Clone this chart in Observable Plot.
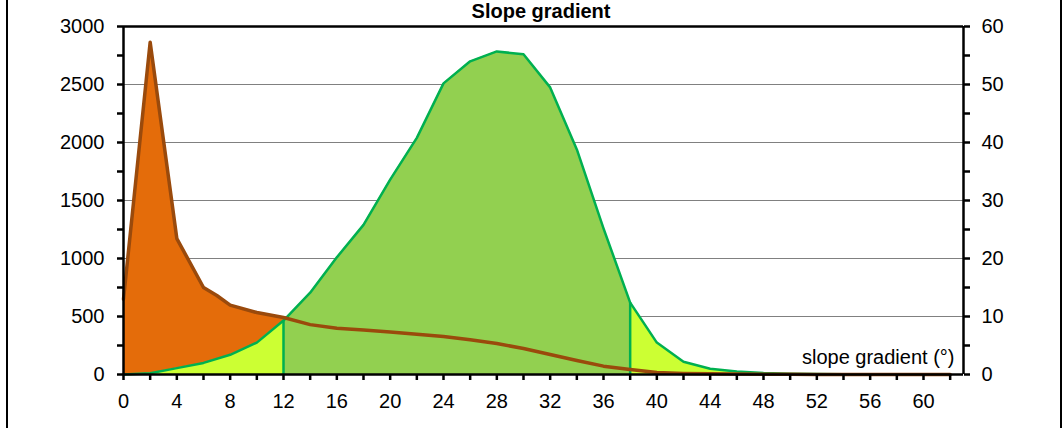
<!DOCTYPE html>
<html>
<head>
<meta charset="utf-8">
<script src="https://cdn.jsdelivr.net/npm/d3@7"></script>
<script src="https://cdn.jsdelivr.net/npm/@observablehq/plot@0.6"></script>
<style>
  html, body { margin: 0; padding: 0; background: #fff; }
  #wrap { position: relative; width: 1064px; height: 428px; overflow: hidden; font-family: "Liberation Sans", Arial, sans-serif; }
  #frame { position: absolute; left: 6px; top: -20px; width: 1056px; height: 480px; border: 2px solid #000; box-sizing: border-box; pointer-events: none; }
  #title { position: absolute; top: 0px; left: 0; width: 1082px; text-align: center; font-weight: bold; font-size: 20px; line-height: 22px; color: #000; }
  #chart { position: absolute; left: 0; top: 0; }
</style>
</head>
<body>
<div id="wrap">
  <div id="frame"></div>
  <div id="chart"></div>
  <div id="title">Slope gradient</div>
</div>
<script>
// ---- data ----
// Orange series (left axis)
const orangeSlope = [0, 2, 4, 6, 7, 8, 10, 12, 14, 16, 18, 20, 22, 24, 26, 28, 30, 32, 34, 36, 38, 40, 42, 44, 46, 48, 50, 52, 54, 56, 58, 60, 62];
const orangeValue = [650, 2865, 1172, 750, 681, 598, 534, 491, 430, 398, 383, 366, 347, 328, 300, 267, 224, 172, 121, 72, 43, 17, 9, 6, 4, 3, 2, 1, 1, 0.5, 0.5, 0, 0];

// Green series (right axis, 0-60)
const greenSlope = [0, 2, 4, 6, 8, 10, 12, 14, 16, 18, 20, 22, 24, 26, 28, 30, 32, 34, 36, 38, 40, 42, 44, 46, 48, 50, 52, 54, 56, 58, 60, 62];
const greenValue = [0, 0.2, 1.1, 2.0, 3.4, 5.5, 9.3, 14.1, 20.2, 25.8, 33.6, 40.8, 50.2, 54.0, 55.7, 55.2, 49.5, 38.8, 25.2, 12.4, 5.5, 2.2, 1.0, 0.5, 0.25, 0.15, 0.1, 0.06, 0.04, 0.02, 0.01, 0];

// class limits highlighted in yellow
const lowLimit = 12;
const highLimit = 38;

// axis ticks
const xTicks = [0, 2, 4, 6, 8, 10, 12, 14, 16, 18, 20, 22, 24, 26, 28, 30, 32, 34, 36, 38, 40, 42, 44, 46, 48, 50, 52, 54, 56, 58, 60, 62];
const leftTicks = [0, 250, 500, 750, 1000, 1250, 1500, 1750, 2000, 2250, 2500, 2750, 3000];
const gridValues = [500, 1000, 1500, 2000, 2500];
const axisRatio = 50; // left / right

const xLabel = "slope gradient (°)";

// ---- build tables ----
const orange = orangeSlope.map((x, i) => ({x, v: orangeValue[i]}));
const green = greenSlope.map((x, i) => ({x, v: greenValue[i] * axisRatio}));
const greenLow = green.filter(d => d.x <= lowLimit);
const greenMid = green.filter(d => d.x >= lowLimit && d.x <= highLimit);
const greenHigh = green.filter(d => d.x >= highLimit);
const limits = green.filter(d => d.x === lowLimit || d.x === highLimit);

const font = '"Liberation Sans", Arial, sans-serif';

const chart = Plot.plot({
  width: 1064,
  height: 428,
  marginLeft: 123,
  marginRight: 101,
  marginTop: 26,
  marginBottom: 54,
  style: {fontFamily: font, fontSize: "20px", color: "#000", background: "transparent", overflow: "visible"},
  x: {domain: [0, 63]},
  y: {domain: [0, 3000]},
  marks: [
    Plot.gridY(gridValues, {stroke: "#808080", strokeOpacity: 1, strokeWidth: 1}),
    Plot.areaY(orange, {x: "x", y: "v", fill: "#E46C0A"}),
    Plot.areaY(greenLow, {x: "x", y: "v", fill: "#CCFF33"}),
    Plot.areaY(greenMid, {x: "x", y: "v", fill: "#92D050"}),
    Plot.areaY(greenHigh, {x: "x", y: "v", fill: "#CCFF33"}),
    Plot.ruleX(limits, {x: "x", y1: 0, y2: "v", stroke: "#00B050", strokeWidth: 2.5}),
    Plot.lineY(green, {x: "x", y: "v", stroke: "#00B050", strokeWidth: 2.5}),
    Plot.lineY(orange, {x: "x", y: "v", stroke: "#9A4A0C", strokeWidth: 3.5, strokeLinejoin: "round"}),
    Plot.ruleY([0, 3000], {stroke: "#000", strokeWidth: 2.5}),
    Plot.ruleX([0, 63], {stroke: "#000", strokeWidth: 2.5}),
    Plot.axisX({ticks: xTicks, tickSize: 6, tickPadding: 13, strokeWidth: 2.5, label: null,
      tickFormat: d => d % 4 === 0 ? String(d) : "", fontSize: 20}),
    Plot.axisY({anchor: "left", ticks: leftTicks, tickSize: 6, tickPadding: 13, strokeWidth: 2.5, label: null,
      tickFormat: d => d % 500 === 0 ? String(d) : "", fontSize: 20}),
    Plot.axisY({anchor: "right", ticks: leftTicks, tickSize: 6, tickPadding: 12, strokeWidth: 2.5, label: null,
      tickFormat: d => d % 500 === 0 ? String(d / axisRatio) : "", fontSize: 20}),
    Plot.text([xLabel], {frameAnchor: "bottom-right", dx: -9, dy: -11, textAnchor: "end", lineAnchor: "bottom", fontSize: 20, fill: "#000"})
  ]
});
document.getElementById("chart").appendChild(chart);
</script>
</body>
</html>
